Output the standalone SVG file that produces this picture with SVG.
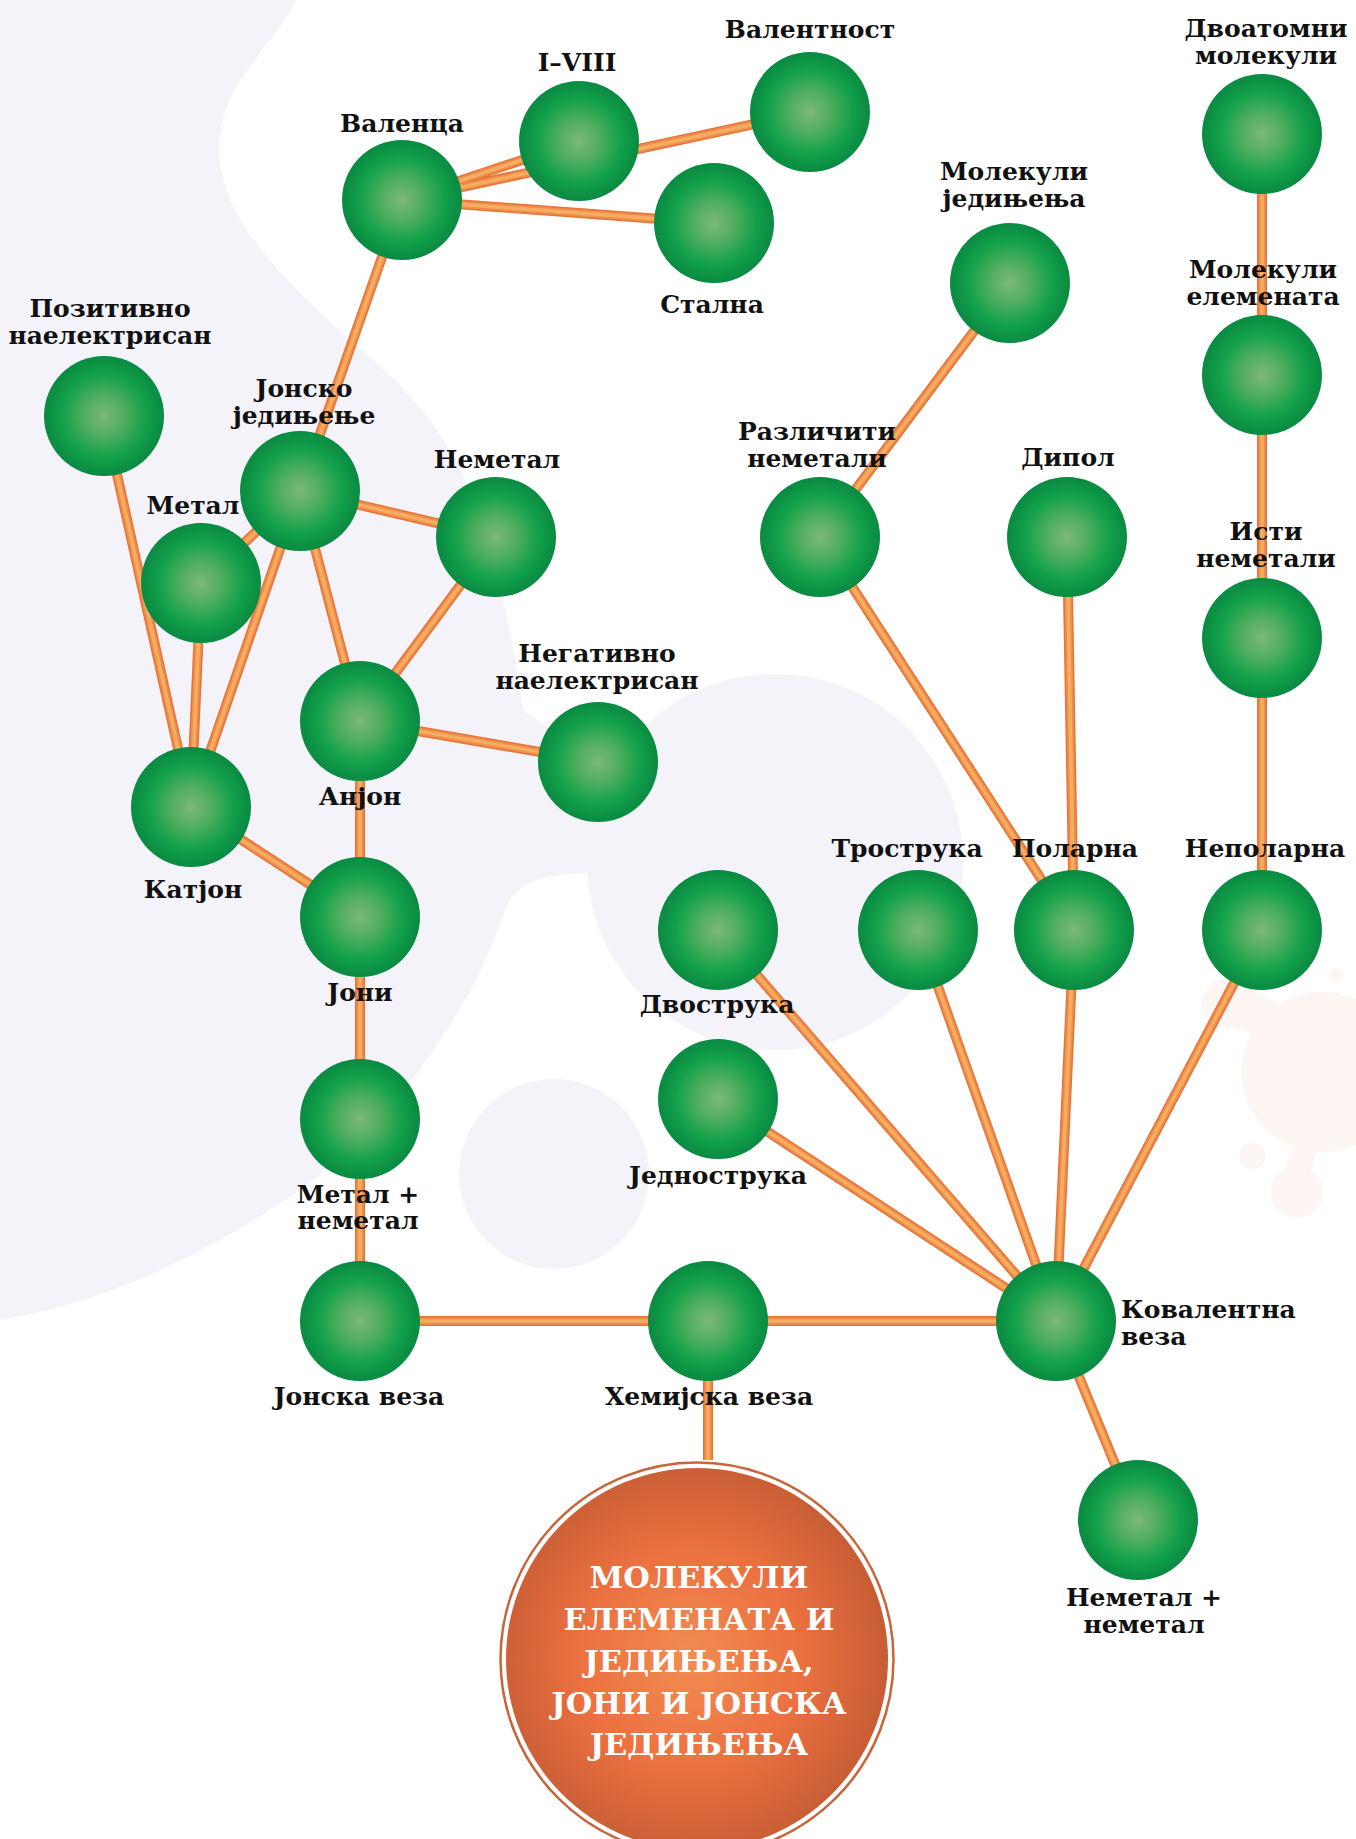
<svg xmlns="http://www.w3.org/2000/svg" xmlns:xlink="http://www.w3.org/1999/xlink" width="1356" height="1839" viewBox="0 0 1356 1839">
<defs>
<radialGradient id="green" cx="50%" cy="50%" r="50%">
<stop offset="0" stop-color="#7db87a"/>
<stop offset="0.35" stop-color="#4fae5f"/>
<stop offset="0.7" stop-color="#12a14a"/>
<stop offset="1" stop-color="#0a8a42"/>
</radialGradient>
<radialGradient id="orange" cx="48%" cy="50%" r="52%">
<stop offset="0" stop-color="#f18c52"/>
<stop offset="0.55" stop-color="#ec7140"/>
<stop offset="1" stop-color="#c75d35"/>
</radialGradient>
<style>
.lav{fill:#f4f3f9}
.peach{fill:#fdf6f2}
.tube-base{stroke:#e8733a;stroke-width:10;fill:none}
.tube-mid{stroke:#ef8f4a;stroke-width:7;fill:none}
.tube-hl{stroke:#f5ad62;stroke-width:3.5;fill:none}
.node{fill:url(#green)}
.lbl{font-family:"DejaVu Serif","Liberation Serif",serif;font-weight:bold;font-size:25px;fill:#111;text-anchor:middle}
.lbl-l{text-anchor:start}
.title{font-family:"DejaVu Serif","Liberation Serif",serif;font-weight:bold;font-size:30.5px;fill:#ffffff;text-anchor:middle}
</style>
</defs>

<g id="background">
<rect width="1356" height="1839" fill="#ffffff"/>
<path class="lav" d="M0,0 L297,0 C275,40 235,75 224,115 C212,160 225,200 250,235 C290,290 340,330 390,375 C430,415 458,455 478,510 C495,560 510,620 523,710 L598,762 L620,800 L615,880 C600,872 580,872 560,875 C530,878 512,890 505,910 C490,950 478,980 459,1010 C420,1075 370,1140 300,1190 C220,1245 120,1300 0,1320 Z"/>
<circle class="lav" cx="775" cy="862" r="188"/>
<circle class="lav" cx="554" cy="1174" r="95"/>
<circle class="peach" cx="1322" cy="1072" r="80"/>
<circle class="peach" cx="1227" cy="1003" r="25"/>
<path class="peach" d="M1232,980 L1290,1010 L1270,1040 L1225,1025 Z"/>
<circle class="peach" cx="1297" cy="1192" r="26"/>
<path class="peach" d="M1285,1168 L1300,1130 L1320,1140 L1310,1172 Z"/>
<circle class="peach" cx="1253" cy="1156" r="13"/>
<circle class="peach" cx="1337" cy="975" r="7"/>
</g>

<g id="connectors">
<g class="tube-base">
<g id="conn-lines">
<line x1="402" y1="200" x2="579" y2="141"/>
<line x1="402" y1="200" x2="810" y2="112"/>
<line x1="402" y1="200" x2="714" y2="223"/>
<line x1="402" y1="200" x2="300" y2="491"/>
<line x1="104" y1="416" x2="191" y2="807"/>
<line x1="300" y1="491" x2="201" y2="583"/>
<line x1="300" y1="491" x2="191" y2="807"/>
<line x1="300" y1="491" x2="496" y2="537"/>
<line x1="300" y1="491" x2="360" y2="721"/>
<line x1="201" y1="583" x2="191" y2="807"/>
<line x1="496" y1="537" x2="360" y2="721"/>
<line x1="360" y1="721" x2="598" y2="762"/>
<line x1="360" y1="721" x2="360" y2="917"/>
<line x1="191" y1="807" x2="360" y2="917"/>
<line x1="360" y1="917" x2="360" y2="1119"/>
<line x1="360" y1="1119" x2="360" y2="1321"/>
<line x1="360" y1="1321" x2="708" y2="1321"/>
<line x1="708" y1="1321" x2="1056" y2="1321"/>
<line x1="708" y1="1321" x2="708" y2="1460"/>
<line x1="1056" y1="1321" x2="718" y2="1099"/>
<line x1="1056" y1="1321" x2="718" y2="930"/>
<line x1="1056" y1="1321" x2="918" y2="930"/>
<line x1="1056" y1="1321" x2="1074" y2="930"/>
<line x1="1056" y1="1321" x2="1262" y2="930"/>
<line x1="1056" y1="1321" x2="1138" y2="1520"/>
<line x1="1074" y1="930" x2="820" y2="537"/>
<line x1="1074" y1="930" x2="1067" y2="537"/>
<line x1="820" y1="537" x2="1010" y2="283"/>
<line x1="1262" y1="930" x2="1262" y2="638"/>
<line x1="1262" y1="638" x2="1262" y2="375"/>
<line x1="1262" y1="375" x2="1262" y2="134"/>
</g>
</g>
<use href="#conn-lines" xlink:href="#conn-lines" class="tube-mid"/>
<use href="#conn-lines" xlink:href="#conn-lines" class="tube-hl"/>
</g>

<g id="n-valenca"><circle class="node" cx="402" cy="200" r="60"/><text class="lbl" x="402" y="132">Валенца</text></g>
<g id="n-i-viii"><circle class="node" cx="579" cy="141" r="60"/><text class="lbl" x="577" y="71">I–VIII</text></g>
<g id="n-valentnost"><circle class="node" cx="810" cy="112" r="60"/><text class="lbl" x="810" y="38">Валентност</text></g>
<g id="n-stalna"><circle class="node" cx="714" cy="223" r="60"/><text class="lbl" x="712" y="313">Стална</text></g>
<g id="n-dvoatomni"><circle class="node" cx="1262" cy="134" r="60"/><text class="lbl" x="1266" y="37">Двоатомни<tspan x="1266" dy="26.5">молекули</tspan></text></g>
<g id="n-mol-jedinjenja"><circle class="node" cx="1010" cy="283" r="60"/><text class="lbl" x="1014" y="180">Молекули<tspan x="1014" dy="26.5">једињења</tspan></text></g>
<g id="n-mol-elemenata"><circle class="node" cx="1262" cy="375" r="60"/><text class="lbl" x="1263" y="278">Молекули<tspan x="1263" dy="26.5">елемената</tspan></text></g>
<g id="n-pozitivno"><circle class="node" cx="104" cy="416" r="60"/><text class="lbl" x="110" y="317">Позитивно<tspan x="110" dy="26.5">наелектрисан</tspan></text></g>
<g id="n-jonsko-jedinjenje"><circle class="node" cx="300" cy="491" r="60"/><text class="lbl" x="304" y="397">Јонско<tspan x="304" dy="26.5">једињење</tspan></text></g>
<g id="n-metal"><circle class="node" cx="201" cy="583" r="60"/><text class="lbl" x="193" y="514">Метал</text></g>
<g id="n-nemetal"><circle class="node" cx="496" cy="537" r="60"/><text class="lbl" x="497" y="468">Неметал</text></g>
<g id="n-razliciti"><circle class="node" cx="820" cy="537" r="60"/><text class="lbl" x="817" y="440">Различити<tspan x="817" dy="26.5">неметали</tspan></text></g>
<g id="n-dipol"><circle class="node" cx="1067" cy="537" r="60"/><text class="lbl" x="1068" y="466">Дипол</text></g>
<g id="n-isti"><circle class="node" cx="1262" cy="638" r="60"/><text class="lbl" x="1266" y="540">Исти<tspan x="1266" dy="26.5">неметали</tspan></text></g>
<g id="n-anjon"><circle class="node" cx="360" cy="721" r="60"/><text class="lbl" x="360" y="805">Анјон</text></g>
<g id="n-negativno"><circle class="node" cx="598" cy="762" r="60"/><text class="lbl" x="597" y="662">Негативно<tspan x="597" dy="26.5">наелектрисан</tspan></text></g>
<g id="n-katjon"><circle class="node" cx="191" cy="807" r="60"/><text class="lbl" x="193" y="898">Катјон</text></g>
<g id="n-joni"><circle class="node" cx="360" cy="917" r="60"/><text class="lbl" x="360" y="1001">Јони</text></g>
<g id="n-dvostruka"><circle class="node" cx="718" cy="930" r="60"/><text class="lbl" x="717" y="1013">Двострука</text></g>
<g id="n-trostruka"><circle class="node" cx="918" cy="930" r="60"/><text class="lbl" x="907" y="857">Трострука</text></g>
<g id="n-polarna"><circle class="node" cx="1074" cy="930" r="60"/><text class="lbl" x="1075" y="857">Поларна</text></g>
<g id="n-nepolarna"><circle class="node" cx="1262" cy="930" r="60"/><text class="lbl" x="1265" y="857">Неполарна</text></g>
<g id="n-jednostruka"><circle class="node" cx="718" cy="1099" r="60"/><text class="lbl" x="718" y="1184">Једнострука</text></g>
<g id="n-metal-nemetal"><circle class="node" cx="360" cy="1119" r="60"/><text class="lbl" x="358" y="1203">Метал +<tspan x="358" dy="26">неметал</tspan></text></g>
<g id="n-jonska-veza"><circle class="node" cx="360" cy="1321" r="60"/><text class="lbl" x="359" y="1405">Јонска веза</text></g>
<g id="n-hemijska-veza"><circle class="node" cx="708" cy="1321" r="60"/><text class="lbl" x="709" y="1405">Хемијска веза</text></g>
<g id="n-kovalentna"><circle class="node" cx="1056" cy="1321" r="60"/><text class="lbl lbl-l" x="1121" y="1318">Ковалентна<tspan x="1121" dy="26.5">веза</tspan></text></g>
<g id="n-nemetal-nemetal"><circle class="node" cx="1138" cy="1520" r="60"/><text class="lbl" x="1144" y="1606">Неметал +<tspan x="1144" dy="26.5">неметал</tspan></text></g>

<g id="n-title">
<circle cx="697" cy="1659" r="196.5" fill="#ffffff" stroke="#c8643a" stroke-width="2.5"/>
<circle cx="697" cy="1659" r="191" fill="url(#orange)"/>
<text class="title" x="699" y="1588">МОЛЕКУЛИ<tspan x="699" dy="42">ЕЛЕМЕНАТА И</tspan><tspan x="699" dy="42">ЈЕДИЊЕЊА,</tspan><tspan x="699" dy="41.5">ЈОНИ И ЈОНСКА</tspan><tspan x="699" dy="41.5">ЈЕДИЊЕЊА</tspan></text>
</g>
</svg>
